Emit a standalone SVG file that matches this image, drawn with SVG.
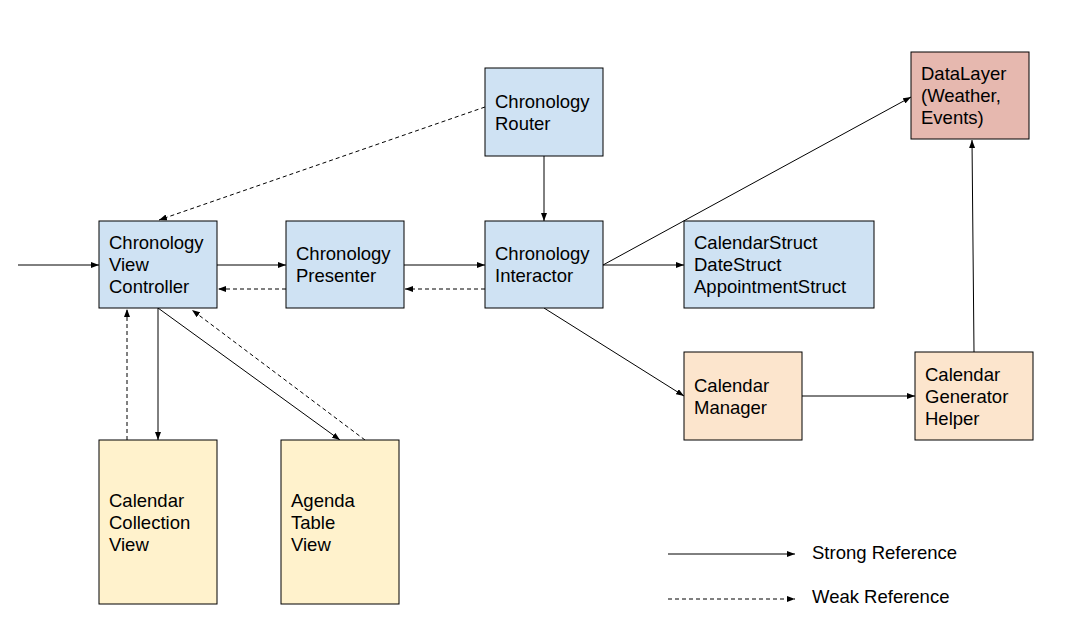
<svg xmlns="http://www.w3.org/2000/svg" width="1083" height="635" viewBox="0 0 1083 635">
<defs>
<marker id="ah" viewBox="0 0 8 6" refX="8" refY="3" markerWidth="8" markerHeight="6" markerUnits="userSpaceOnUse" orient="auto">
<path d="M0,0 L8,3 L0,6 Z" fill="#000"/>
</marker>
</defs>
<style>
.box{stroke:#000;stroke-width:1}
.blue{fill:#cfe2f3}
.red{fill:#e6b8af}
.orange{fill:#fce5cd}
.yellow{fill:#fff2cc}
text{font-family:"Liberation Sans",Arial,sans-serif;font-size:18.5px;fill:#000}
.s{stroke:#000;stroke-width:1;fill:none;marker-end:url(#ah)}
.d{stroke:#000;stroke-width:1;fill:none;stroke-dasharray:4,3;marker-end:url(#ah)}
</style>
<rect width="1083" height="635" fill="#fff"/>
<g id="connectors">
<line class="s" x1="18" y1="265" x2="99" y2="265"/>
<line class="s" x1="217" y1="265" x2="286" y2="265"/>
<line class="d" x1="286" y1="289" x2="218" y2="289"/>
<line class="s" x1="404" y1="265" x2="485" y2="265"/>
<line class="d" x1="485" y1="289" x2="405" y2="289"/>
<line class="s" x1="544" y1="156" x2="544" y2="221"/>
<line class="d" x1="485" y1="107" x2="159" y2="220"/>
<line class="s" x1="603" y1="265" x2="911" y2="97"/>
<line class="s" x1="603" y1="265" x2="684" y2="265"/>
<line class="s" x1="544" y1="308" x2="684" y2="396"/>
<line class="s" x1="802" y1="396" x2="915" y2="396"/>
<line class="s" x1="974" y1="352" x2="972" y2="140"/>
<line class="s" x1="158" y1="308" x2="158" y2="440"/>
<line class="d" x1="127" y1="440" x2="127" y2="309"/>
<line class="s" x1="158" y1="308" x2="340" y2="440"/>
<line class="d" x1="365" y1="440" x2="192" y2="310"/>
<line class="s" x1="668" y1="554" x2="795" y2="554"/>
<line class="d" x1="668" y1="599" x2="795" y2="599"/>
</g>
<g id="cvc"><rect class="box blue" x="99" y="221" width="118" height="87"/><text x="109" y="249">Chronology</text><text x="109" y="271">View</text><text x="109" y="293">Controller</text></g>
<g id="presenter"><rect class="box blue" x="286" y="221" width="118" height="87"/><text x="296" y="260">Chronology</text><text x="296" y="282">Presenter</text></g>
<g id="router"><rect class="box blue" x="485" y="68" width="118" height="88"/><text x="495" y="108">Chronology</text><text x="495" y="130">Router</text></g>
<g id="interactor"><rect class="box blue" x="485" y="221" width="118" height="87"/><text x="495" y="260">Chronology</text><text x="495" y="282">Interactor</text></g>
<g id="structs"><rect class="box blue" x="684" y="221" width="190" height="87"/><text x="694" y="249">CalendarStruct</text><text x="694" y="271">DateStruct</text><text x="694" y="293">AppointmentStruct</text></g>
<g id="datalayer"><rect class="box red" x="911" y="52" width="118" height="87"/><text x="921" y="80">DataLayer</text><text x="921" y="102">(Weather,</text><text x="921" y="124">Events)</text></g>
<g id="manager"><rect class="box orange" x="684" y="352" width="118" height="88"/><text x="694" y="392">Calendar</text><text x="694" y="414">Manager</text></g>
<g id="generator"><rect class="box orange" x="915" y="352" width="118" height="88"/><text x="925" y="381">Calendar</text><text x="925" y="403">Generator</text><text x="925" y="425">Helper</text></g>
<g id="collection"><rect class="box yellow" x="99" y="440" width="118" height="164"/><text x="109" y="507">Calendar</text><text x="109" y="529">Collection</text><text x="109" y="551">View</text></g>
<g id="agenda"><rect class="box yellow" x="281" y="440" width="118" height="164"/><text x="291" y="507">Agenda</text><text x="291" y="529">Table</text><text x="291" y="551">View</text></g>
<g id="legend"><text x="812" y="559">Strong Reference</text><text x="812" y="603">Weak Reference</text></g>
</svg>
